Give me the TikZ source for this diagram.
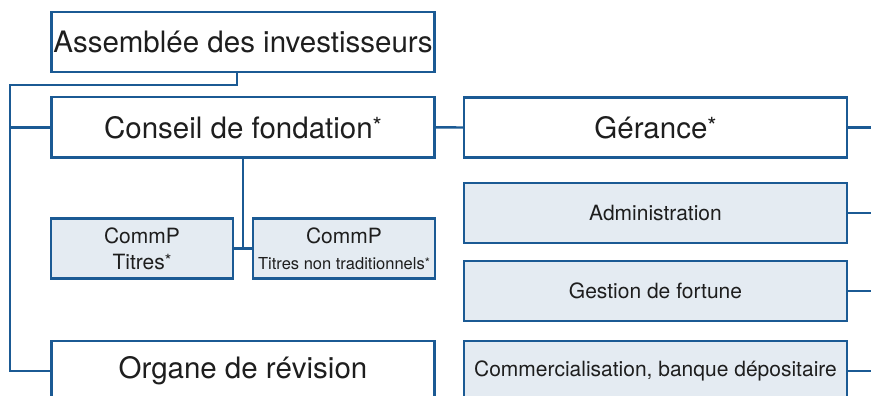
\documentclass[tikz,border=0pt]{standalone}
\usepackage{fontspec}
\setmainfont{TeX Gyre Heros}

\definecolor{orgblue}{HTML}{1B5A94}
\definecolor{orgfill}{HTML}{E4EBF2}
\definecolor{orgtext}{HTML}{1E1E1E}

\newcommand{\starmark}{\raisebox{.12em}{\scalebox{.8}{*}}}

\tikzset{
  bigbox/.style={draw=orgblue, line width=2.4pt, minimum width=383pt, minimum height=60pt,
    inner sep=0pt, text=orgtext, font=\fontsize{29.5}{34}\selectfont},
  unitbox/.style={bigbox, fill=orgfill, font=\fontsize{21}{26}\selectfont},
  commbox/.style={unitbox, minimum width=182pt, align=center},
  link/.style={draw=orgblue, line width=2.4pt},
}

\begin{document}
\begin{tikzpicture}[x=1pt, y=-1pt]  % one unit per pixel, y pointing down
    % Fix the canvas to the reference size
    \useasboundingbox (0,0) rectangle (871,396);
    \clip (0,0) rectangle (871,396);

    % Left column
    \node[bigbox] (assemblee) at (243,42.2) {Assemblée des investisseurs};
    \node[bigbox] (conseil) at (243,127.3) {Conseil de fondation\starmark};
    \node[commbox] (titres) at (142,248.6) {CommP\\Titres\starmark};
    \node[commbox] (nontrad) at (344,248.6) {CommP\\{\fontsize{16.5}{20}\selectfont Titres non traditionnels\starmark}};
    \node[bigbox] (organe) at (243,370.7) {Organe de révision};

    % Right column
    \node[bigbox] (gerance) at (655.5,127.5) {Gérance\starmark};
    \node[unitbox] (admin) at (655.5,212.7) {Administration};
    \node[unitbox] (gestion) at (655.5,290.8) {Gestion de fortune};
    \node[unitbox] (commerc) at (655.5,370.7) {Commercialisation, banque dépositaire};

    % Spine on the left and the right rim
    \coordinate (spinetop) at (10,85);
    \coordinate (rim) at (871,0);

    % Connectors
    \draw[link] ([xshift=-6pt]assemblee.south) |- (spinetop) |- (organe.west);
    \draw[link] (conseil.west -| spinetop) -- (conseil.west);
    \draw[link] (conseil.east) -- (gerance.west);
    \draw[link] (conseil.south) -- (conseil.south |- titres.east);
    \draw[link] (titres.east) -- (nontrad.west);
    \foreach \n in {gerance, admin, gestion, commerc} {
        \draw[link] (\n.east) -- (\n.east -| rim);
    }
\end{tikzpicture}
\end{document}
